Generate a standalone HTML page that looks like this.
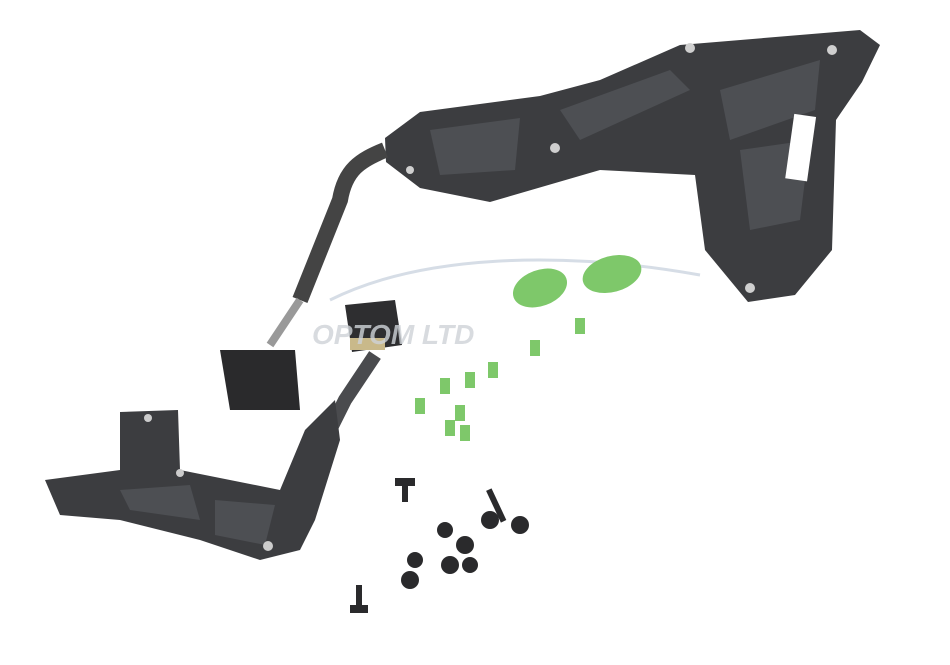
<!DOCTYPE html>
<html><head><style>body{margin:0;background:#fff}svg{display:block}</style></head>
<body>
<svg width="950" height="665" viewBox="0 0 950 665" xmlns="http://www.w3.org/2000/svg">
<rect width="950" height="665" fill="#fff"/>
<!-- upper bracket -->
<polygon points="385,138 420,112 540,96 600,80 680,45 860,30 880,45 862,82 836,120 832,250 795,295 748,302 705,250 695,175 600,170 490,202 420,188 386,162" fill="#3c3d40"/>
<g fill="#4d4f53">
<polygon points="560,110 670,70 690,90 580,140"/><polygon points="720,90 820,60 815,110 730,140"/>
<polygon points="740,150 810,140 800,220 750,230"/><polygon points="430,130 520,118 515,170 440,175"/>
</g>
<rect x="790" y="115" width="22" height="65" fill="#fff" transform="rotate(8 800 145)"/>
<g fill="#cfcfcf"><circle cx="690" cy="48" r="5"/><circle cx="832" cy="50" r="5"/><circle cx="555" cy="148" r="5"/><circle cx="750" cy="288" r="5"/><circle cx="410" cy="170" r="4"/></g>
<!-- cable -->
<path d="M385,150 C360,160 345,170 340,200 L300,300" stroke="#444" stroke-width="16" fill="none"/>
<path d="M300,300 L270,345" stroke="#999" stroke-width="8" fill="none"/>
<polygon points="220,350 295,350 300,410 230,410" fill="#2a2a2c"/>
<polygon points="345,305 395,300 402,345 352,352" fill="#2e2e30"/>
<rect x="350" y="338" width="35" height="12" fill="#c9b98a"/>
<path d="M375,355 L345,400 L330,430 L310,480" stroke="#4a4b4e" stroke-width="14" fill="none"/>
<!-- lower bracket -->
<polygon points="45,480 120,470 120,412 178,410 180,470 280,490 305,430 335,400 340,440 315,520 300,550 260,560 200,540 120,520 60,515" fill="#3c3d40"/>
<g fill="#4d4f53"><polygon points="120,490 190,485 200,520 130,510"/><polygon points="215,500 275,505 265,545 215,535"/></g>
<g fill="#ccc"><circle cx="180" cy="473" r="4"/><circle cx="268" cy="546" r="5"/><circle cx="148" cy="418" r="4"/></g>
<!-- swoosh -->
<path d="M330,300 C420,255 560,250 700,275" stroke="#d6dde6" stroke-width="3" fill="none"/>
<!-- green parts -->
<g fill="#7ec86a">
<ellipse cx="540" cy="288" rx="28" ry="18" transform="rotate(-20 540 288)"/>
<ellipse cx="612" cy="274" rx="30" ry="18" transform="rotate(-15 612 274)"/>
<rect x="415" y="398" width="10" height="16"/><rect x="440" y="378" width="10" height="16"/><rect x="465" y="372" width="10" height="16"/>
<rect x="488" y="362" width="10" height="16"/><rect x="530" y="340" width="10" height="16"/><rect x="575" y="318" width="10" height="16"/>
<rect x="445" y="420" width="10" height="16"/><rect x="460" y="425" width="10" height="16"/><rect x="455" y="405" width="10" height="16"/>
</g>
<!-- screws -->
<g fill="#2a2a2c">
<rect x="395" y="478" width="20" height="8"/><rect x="402" y="486" width="6" height="16"/>
<rect x="350" y="605" width="18" height="8"/><rect x="356" y="585" width="6" height="20"/>
<circle cx="410" cy="580" r="9"/><circle cx="450" cy="565" r="9"/><circle cx="465" cy="545" r="9"/>
<circle cx="490" cy="520" r="9"/><circle cx="520" cy="525" r="9"/><circle cx="445" cy="530" r="8"/>
<circle cx="415" cy="560" r="8"/><circle cx="470" cy="565" r="8"/>
<rect x="493" y="488" width="6" height="35" transform="rotate(-25 496 505)"/>
</g>
<text x="312" y="344" font-family="Liberation Sans, sans-serif" font-weight="bold" font-style="italic" font-size="28" fill="#cfd3d8" opacity="0.8">OPTOM LTD</text>
</svg>
</body></html>
